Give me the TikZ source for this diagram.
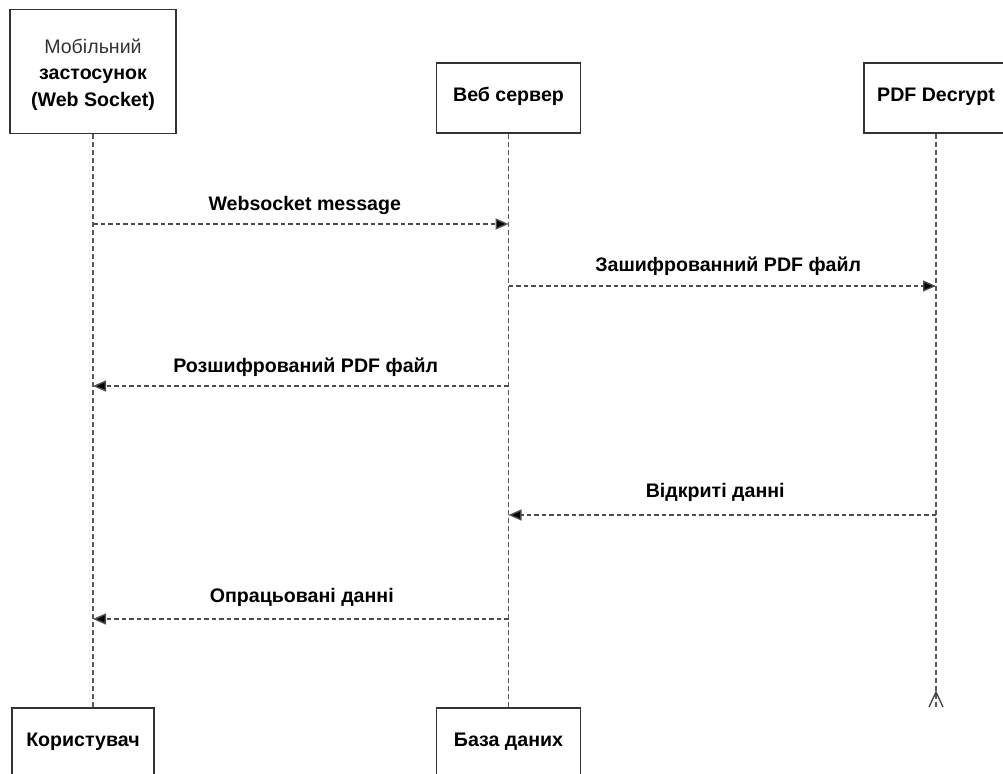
\documentclass[tikz,border=0pt]{standalone}
\usepackage{fontspec}
\setmainfont{Liberation Sans}
\usetikzlibrary{arrows.meta}

\tikzset{
  lifebox/.style={draw=black!80, line width=1.4pt, fill=white, align=center,
    font=\fontsize{19.6}{26.5}\selectfont\bfseries, inner sep=0pt,
    text height=0.72em, text depth=0pt},
  boxtext/.style={align=center, inner sep=0pt,
    font=\fontsize{19.6}{26.5}\selectfont\bfseries},
  lifeline/.style={draw=black!65, line width=1.5pt, dash pattern=on 5pt off 3pt},
  msg/.style={draw=black!70, line width=1.4pt, dash pattern=on 4.5pt off 3pt,
    -{Triangle[length=13pt,width=11pt,fill=black]}},
  msglabel/.style={font=\fontsize{19.6}{23}\selectfont\bfseries, text=black,
    inner sep=0pt, anchor=center}
}

\begin{document}
\begin{tikzpicture}[x=1pt,y=-1pt]
\useasboundingbox (0,0) rectangle (1003,773);
\clip (0,0) rectangle (1003,773);

% participants at the top
\node[lifebox, minimum width=166pt, minimum height=124pt] (mob) at (93,71.5) {};
\node[boxtext] (mobtext) at (93,74.5)
  {{\mdseries\color{black!80}Мобільний}\\застосунок\\(Web Socket)};
\node[lifebox, minimum width=144pt, minimum height=70pt] (web) at (508.5,98) {Веб сервер};
\node[lifebox, minimum width=144pt, minimum height=70pt] (pdf) at (936,98) {PDF Decrypt};

% participants at the bottom
\node[lifebox, minimum width=142pt, minimum height=70pt] (user) at (83,743) {Користувач};
\node[lifebox, minimum width=144pt, minimum height=70pt] (db) at (508.5,743) {База даних};

% lifelines
\coordinate (pdfend) at (936,707);
\draw[lifeline] (mob.south) -- (mob.south |- user.north);
\draw[lifeline] (web.south) -- (db.north);
\draw[lifeline] (pdf.south) -- (pdfend);

% open foot at the end of the PDF Decrypt lifeline
\coordinate (foottop) at (936,692);
\coordinate (footl) at (929,707);
\coordinate (footr) at (943,707);
\draw[draw=black!75, line width=1.3pt] (footl) -- (foottop) -- (footr);

% message levels on the lifelines
\coordinate (m1a) at (mob.south |- 0,224);
\coordinate (m1b) at (web.south |- 0,224);
\coordinate (m2a) at (web.south |- 0,286);
\coordinate (m2b) at (pdf.south |- 0,286);
\coordinate (m3a) at (web.south |- 0,386);
\coordinate (m3b) at (mob.south |- 0,386);
\coordinate (m4a) at (pdf.south |- 0,515);
\coordinate (m4b) at (web.south |- 0,515);
\coordinate (m5a) at (web.south |- 0,619);
\coordinate (m5b) at (mob.south |- 0,619);

% messages
\draw[msg] (m1a) -- node[msglabel, yshift=19pt, xshift=4pt] (l1) {Websocket message} (m1b);
\draw[msg] (m2a) -- node[msglabel, yshift=20pt, xshift=6pt] (l2) {Зашифрованний PDF файл} (m2b);
\draw[msg] (m3a) -- node[msglabel, yshift=19pt, xshift=5pt] (l3) {Розшифрований PDF файл} (m3b);
\draw[msg] (m4a) -- node[msglabel, yshift=23pt, xshift=-7pt] (l4) {Відкриті данні} (m4b);
\draw[msg] (m5a) -- node[msglabel, yshift=22pt, xshift=1pt] (l5) {Опрацьовані данні} (m5b);
\end{tikzpicture}
\end{document}
